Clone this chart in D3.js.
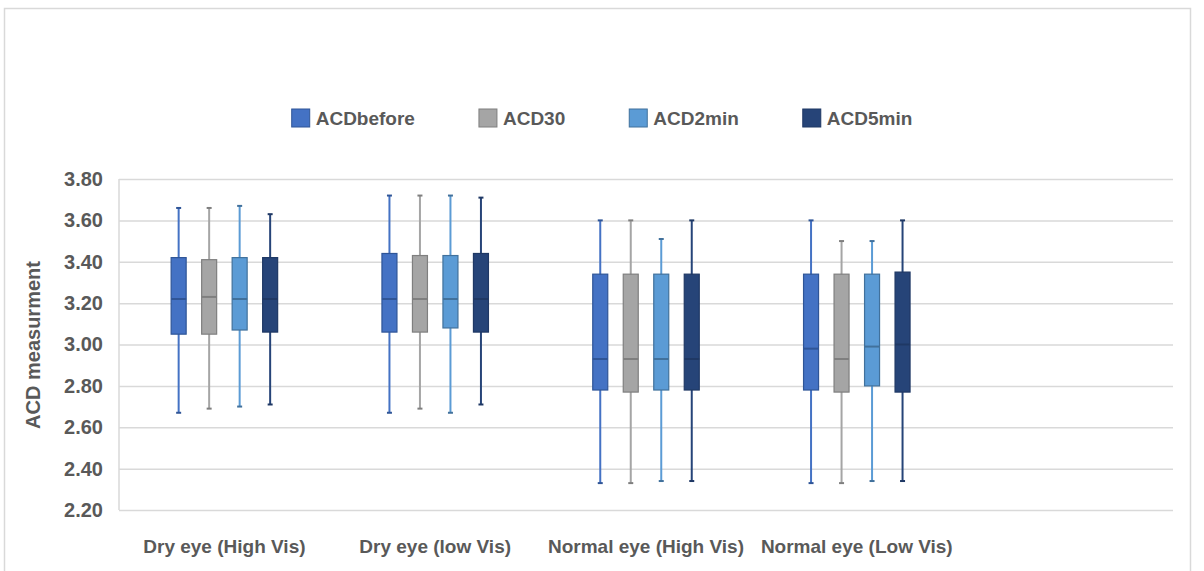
<!DOCTYPE html>
<html><head><meta charset="utf-8">
<script src="https://cdn.jsdelivr.net/npm/d3@7"></script>
<style>body{margin:0;background:#fff}svg{display:block}text{font-family:"Liberation Sans",Arial,sans-serif;font-weight:bold;fill:#595959}</style>
</head><body><svg id="c" width="1204" height="571"></svg>
<script>
const categories = ["Dry eye (High Vis)", "Dry eye (low Vis)", "Normal eye (High Vis)", "Normal eye (Low Vis)", ""];
const seriesNames = ["ACDbefore", "ACD30", "ACD2min", "ACD5min"];
const seriesColors = ["#4472C4", "#A5A5A5", "#5B9BD5", "#264478"];
const seriesStroke = ["#2F5597", "#7F7F7F", "#41719C", "#1F3864"];
// per series: [min, q1, median, q3, max] for each category
const ACDbefore = [[2.67,3.05,3.22,3.42,3.66],[2.67,3.06,3.22,3.44,3.72],[2.33,2.78,2.93,3.34,3.60],[2.33,2.78,2.98,3.34,3.60]];
const ACD30     = [[2.69,3.05,3.23,3.41,3.66],[2.69,3.06,3.22,3.43,3.72],[2.33,2.77,2.93,3.34,3.60],[2.33,2.77,2.93,3.34,3.50]];
const ACD2min   = [[2.70,3.07,3.22,3.42,3.67],[2.67,3.08,3.22,3.43,3.72],[2.34,2.78,2.93,3.34,3.51],[2.34,2.80,2.99,3.34,3.50]];
const ACD5min   = [[2.71,3.06,3.22,3.42,3.63],[2.71,3.06,3.22,3.44,3.71],[2.34,2.78,2.93,3.34,3.60],[2.34,2.77,3.00,3.35,3.60]];
const seriesData = [ACDbefore, ACD30, ACD2min, ACD5min];
const yTicks = [2.2,2.4,2.6,2.8,3.0,3.2,3.4,3.6,3.8];
const yTitle = "ACD measurment";

const svg = d3.select("#c");
svg.append("rect").attr("x",4.5).attr("y",8.5).attr("width",1186).attr("height",600)
  .attr("fill","#fff").attr("stroke","#D9D9D9").attr("stroke-width",1.5);

const L=119, R=1173, T=179, B=510;
const y = d3.scaleLinear().domain([2.2,3.8]).range([B,T]);
const x = d3.scaleBand().domain(categories.map((c,i)=>i)).range([L,R]).padding(0);
const xs = d3.scaleBand().domain(seriesNames).range([-61,61]).padding(0);
const bw = 15;

// grid
const gy = svg.append("g").attr("transform",`translate(${L},0)`)
  .call(d3.axisLeft(y).tickValues(yTicks).tickSize(-(R-L)).tickFormat(d3.format(".2f")).tickPadding(16));
gy.select(".domain").remove();
gy.selectAll(".tick line").attr("stroke","#D9D9D9").attr("stroke-width",1.5);
gy.selectAll(".tick text").attr("font-size",20).attr("fill","#595959").attr("font-family",'"Liberation Sans",Arial,sans-serif').attr("font-weight","bold");
svg.append("line").attr("x1",L).attr("x2",L).attr("y1",T).attr("y2",B).attr("stroke","#D9D9D9").attr("stroke-width",1.5);

svg.append("text").attr("transform",`translate(40,345) rotate(-90)`).attr("text-anchor","middle")
  .attr("font-size",20).text(yTitle);

// x labels
svg.append("g").selectAll("text").data(categories).join("text")
  .attr("x",(d,i)=>x(i)+x.bandwidth()/2).attr("y",553).attr("text-anchor","middle")
  .attr("font-size",19).text(d=>d);

// boxes
seriesNames.forEach((s,si)=>{
  const g = svg.append("g");
  seriesData[si].forEach((v,ci)=>{
    const cx = x(ci)+x.bandwidth()/2 + xs(s) + xs.bandwidth()/2;
    const [mn,q1,md,q3,mx]=v;
    g.append("line").attr("x1",cx).attr("x2",cx).attr("y1",y(mx)).attr("y2",y(mn))
      .attr("stroke",seriesColors[si]).attr("stroke-width",2);
    [mn,mx].forEach(w=>g.append("line").attr("x1",cx-2.5).attr("x2",cx+2.5).attr("y1",y(w)).attr("y2",y(w))
      .attr("stroke",seriesStroke[si]).attr("stroke-width",2));
    g.append("rect").attr("x",cx-bw/2).attr("width",bw).attr("y",y(q3)).attr("height",y(q1)-y(q3))
      .attr("fill",seriesColors[si]).attr("stroke",seriesStroke[si]).attr("stroke-width",1.2);
    g.append("line").attr("x1",cx-bw/2).attr("x2",cx+bw/2).attr("y1",y(md)).attr("y2",y(md))
      .attr("stroke",seriesStroke[si]).attr("stroke-width",2);
  });
});

// legend
const lg = svg.append("g");
let lx = 0;
const items = [];
seriesNames.forEach((s,i)=>{
  const it = lg.append("g").attr("transform",`translate(${lx},0)`);
  it.append("rect").attr("x",0).attr("y",-9).attr("width",18).attr("height",18)
    .attr("fill",seriesColors[i]).attr("stroke",seriesStroke[i]).attr("stroke-width",1);
  const t = it.append("text").attr("x",24).attr("y",7).attr("font-size",19).text(s);
  const w = t.node().getComputedTextLength();
  lx += 24 + w + 64;
});
const total = lx - 64;
lg.attr("transform",`translate(${602-total/2},118)`);
</script></body></html>
